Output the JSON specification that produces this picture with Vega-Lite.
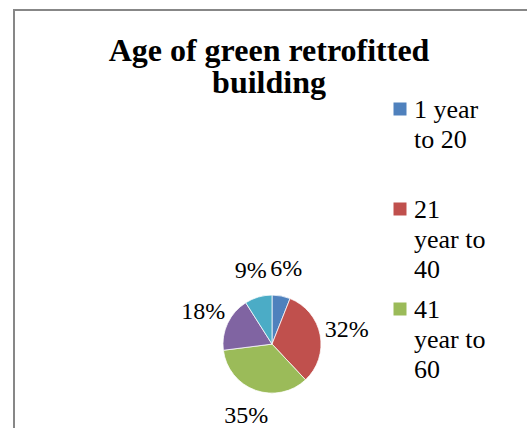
{
  "$schema": "https://vega.github.io/schema/vega-lite/v6.json",
  "autosize": "none",
  "width": 520,
  "height": 424,
  "padding": {"left": 14, "top": 10, "right": -7, "bottom": -6},
  "background": "white",
  "view": {"stroke": "#878787", "strokeWidth": 2},
  "title": {
    "text": ["Age of green retrofitted", "building"],
    "font": "Liberation Serif",
    "fontSize": 32,
    "fontWeight": "bold",
    "color": "black",
    "lineHeight": 32,
    "anchor": "middle",
    "frame": "group",
    "baseline": "alphabetic",
    "offset": -115,
    "dx": -5
  },
  "data": {
    "values": [
      {"age": "1 year to 20", "pct": 0.06},
      {"age": "21 year to 40", "pct": 0.32},
      {"age": "41 year to 60", "pct": 0.35},
      {"age": "61 year to 80", "pct": 0.18},
      {"age": "81 year and above", "pct": 0.09}
    ]
  },
  "encoding": {
    "theta": {"field": "pct", "type": "quantitative", "stack": true},
    "order": {"field": "age", "type": "ordinal", "sort": "ascending"}
  },
  "layer": [
    {
      "mark": {
        "type": "arc",
        "outerRadius": 49,
        "x": {"expr": "width/2 - 2"},
        "y": {"expr": "height*0.788"},
        "stroke": "white",
        "strokeWidth": 0.75
      },
      "encoding": {
        "color": {
          "field": "age",
          "type": "nominal",
          "scale": {
            "domain": ["1 year to 20", "21 year to 40", "41 year to 60", "61 year to 80", "81 year and above"],
            "range": ["#4F81BD", "#C0504D", "#9BBB59", "#8064A2", "#4BACC6"]
          },
          "legend": {
            "values": ["1 year to 20", "21 year to 40", "41 year to 60"],
            "orient": "none",
            "legendX": 373,
            "legendY": 95,
            "title": null,
            "padding": 0,
            "symbolType": "M-1,-2.385H1V-0.385H-1Z",
            "symbolSize": 169,
            "symbolStrokeWidth": 0,
            "symbolOpacity": 1,
            "labelFont": "Liberation Serif",
            "labelFontSize": 26,
            "labelColor": "black",
            "labelBaseline": "alphabetic",
            "labelOffset": 1,
            "labelLimit": 0,
            "gridAlign": "all",
            "rowPadding": 14,
            "labelExpr": "datum.label == '1 year to 20' ? ['1 year', 'to 20'] : [split(datum.label, ' ')[0], 'year to', split(datum.label, ' ')[3]]"
          }
        }
      }
    },
    {
      "mark": {
        "type": "text",
        "radius": 76,
        "x": {"expr": "width/2 - 2"},
        "y": {"expr": "height*0.788"},
        "font": "Liberation Serif",
        "fontSize": 24,
        "fill": "black",
        "align": "center",
        "baseline": "middle"
      },
      "encoding": {
        "text": {"field": "pct", "type": "quantitative", "format": ".0%"},
        "detail": {"field": "age", "type": "nominal"}
      }
    }
  ],
  "config": {
    "style": {"guide-label": {"lineHeight": 30}}
  }
}
